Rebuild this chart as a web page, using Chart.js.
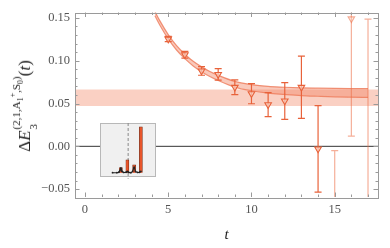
<!DOCTYPE html>
<html><head><meta charset="utf-8">
<script src="https://cdn.jsdelivr.net/npm/chart.js@4/dist/chart.umd.min.js"></script>
<style>
html,body{margin:0;padding:0;background:#fff;}
#wrap{position:relative;width:390px;height:248px;overflow:hidden;}
#main{position:absolute;left:0;top:0;}
#inset{position:absolute;left:96px;top:119px;}
#ytitle{position:absolute;left:26px;top:106px;transform:translate(-50%,-50%) rotate(-90deg);font-family:"Liberation Serif",serif;font-size:17px;color:#222;white-space:nowrap;line-height:1;}
#ytitle .st{display:inline-flex;flex-direction:column;vertical-align:middle;font-size:11px;line-height:1;margin-left:1px;}
#ytitle .st .up{position:relative;top:-4px;}
#ytitle .st .dn{position:relative;top:2px;}
#ytitle i{font-style:italic;}
#ytitle sub,#ytitle sup{font-size:8px;line-height:0;}
</style></head>
<body>
<div id="wrap">
<canvas id="main" width="390" height="248"></canvas>
<canvas id="inset" width="64" height="62"></canvas>
<div id="ytitle">Δ<i>E</i><span class="st"><span class="up">(2,1,A<sub>1</sub><sup>+</sup>,S<sub>0</sub>)</span><span class="dn">3</span></span>(<i>t</i>)</div>
</div>
<script>
// ---- data ----
const tValues  = [5, 6, 7, 8, 9, 10, 11, 12, 13, 14, 15, 16, 17];
const deltaE   = [0.1253, 0.107, 0.088, 0.084, 0.069, 0.0615, 0.0486, 0.053, 0.069, -0.003, -0.08, 0.149, -0.07];
const deltaErr = [0.003, 0.004, 0.005, 0.0067, 0.0086, 0.0118, 0.014, 0.0215, 0.0364, 0.0506, 0.075, 0.137, 0.2186];

const fitT     = [4.2, 4.5, 5, 5.5, 6, 6.5, 7, 7.5, 8, 9, 10, 11, 12, 13, 14, 15, 16, 17];
const fitUpper = [0.1575, 0.1465, 0.1305, 0.1175, 0.1076, 0.0993, 0.0928, 0.0874, 0.083, 0.0758, 0.0721, 0.0699, 0.069, 0.0683, 0.0679, 0.0676, 0.0674, 0.0673];
const fitLower = [0.1525, 0.1415, 0.1255, 0.1125, 0.1024, 0.0939, 0.0872, 0.0816, 0.077, 0.0692, 0.0649, 0.0621, 0.0606, 0.0593, 0.0585, 0.0578, 0.0574, 0.0571];

const bandT     = [-0.6, 17.6];
const bandUpper = [0.0665, 0.0665];
const bandLower = [0.047, 0.047];

const xTickValues = [0, 5, 10, 15];
const yTickValues = [-0.05, 0, 0.05, 0.10, 0.15];
const xRange = [-0.6, 17.6];
const yRange = [-0.0592, 0.1563];

// inset
const insetBarX = [14.3, 27.7, 41.7, 55.7];
const insetBarH = [0.11, 0.28, 0.17, 1.0];
const insetLineX = [-3, 6, 10, 12, 14.3, 16.5, 20, 25, 27.7, 30, 35, 38.5, 41.7, 44.5, 49, 53, 55.7];
const insetLineY = [0, 0, 0.01, 0.04, 0.1, 0.03, 0.005, 0.01, 0.03, 0.01, 0, 0.03, 0.12, 0.03, 0.005, 0.01, 0.03];
const insetDivider = 29.3;

// ---- main chart ----
const ORANGE = 'rgb(232,98,58)';
const ORANGE_LIGHT = 'rgba(236,110,70,0.55)';
const colorFor = t => t >= 15 ? ORANGE_LIGHT : ORANGE;

const errorBars = {
  id: 'errorBars',
  beforeDatasetDraw(chart, args) {
    if (chart.data.datasets[args.index].label !== 'points') return;
    const {ctx, chartArea: a, scales: {x, y}} = chart;
    ctx.save();
    ctx.beginPath(); ctx.rect(a.left, a.top, a.right - a.left, a.bottom - a.top); ctx.clip();
    ctx.lineWidth = 1.2;
    tValues.forEach((t, i) => {
      const px = x.getPixelForValue(t);
      const y1 = y.getPixelForValue(deltaE[i] + deltaErr[i]);
      const y2 = y.getPixelForValue(deltaE[i] - deltaErr[i]);
      ctx.strokeStyle = colorFor(t);
      ctx.beginPath();
      ctx.moveTo(px, y1); ctx.lineTo(px, y2);
      ctx.moveTo(px - 3.5, y1); ctx.lineTo(px + 3.5, y1);
      ctx.moveTo(px - 3.5, y2); ctx.lineTo(px + 3.5, y2);
      ctx.stroke();
    });
    ctx.restore();
  }
};

const frame = {
  id: 'frame',
  afterDraw(chart) {
    const {ctx, chartArea: a, scales: {x, y}} = chart;
    ctx.save();
    ctx.strokeStyle = '#9a9a9a';
    ctx.lineWidth = 1;
    ctx.strokeRect(Math.round(a.left) + 0.5, Math.round(a.top) + 0.5, Math.round(a.right - a.left), Math.round(a.bottom - a.top));
    ctx.beginPath();
    for (let v = -1; v <= 18; v++) {
      if (v < xRange[0] || v > xRange[1]) continue;
      const px = Math.round(x.getPixelForValue(v)) + 0.5;
      const len = v % 5 === 0 ? 4.5 : 2.5;
      ctx.moveTo(px, a.bottom); ctx.lineTo(px, a.bottom - len);
      ctx.moveTo(px, a.top); ctx.lineTo(px, a.top + len);
    }
    for (let k = -6; k <= 15; k++) {
      const v = k / 100;
      if (v < yRange[0] || v > yRange[1]) continue;
      const py = Math.round(y.getPixelForValue(v)) + 0.5;
      const len = k % 5 === 0 ? 4.5 : 2.5;
      ctx.moveTo(a.left, py); ctx.lineTo(a.left + len, py);
      ctx.moveTo(a.right, py); ctx.lineTo(a.right - len, py);
    }
    ctx.stroke();
    ctx.restore();
  }
};

const fmt = v => {
  const s = Math.abs(v) < 1e-9 ? '0.00' : v.toFixed(2);
  return s.replace('-', '\u2212');
};

new Chart(document.getElementById('main'), {
  type: 'line',
  data: {
    datasets: [
      { label: 'points', order: 0, showLine: false,
        data: tValues.map((t, i) => ({x: t, y: deltaE[i]})),
        pointStyle: 'triangle', rotation: 180, pointRadius: 3.8, pointBorderWidth: 1.1,
        pointBorderColor: tValues.map(colorFor),
        pointBackgroundColor: tValues.map(t => t >= 15 ? 'rgba(250,210,195,0.4)' : 'rgba(250,205,190,0.75)') },
      { label: 'fitUpper', order: 1, data: fitT.map((t, i) => ({x: t, y: fitUpper[i]})),
        borderColor: 'rgba(236,112,78,0.75)', borderWidth: 1.2, pointRadius: 0,
        cubicInterpolationMode: 'monotone', fill: '+1', backgroundColor: 'rgba(242,135,105,0.45)' },
      { label: 'fitLower', order: 1, data: fitT.map((t, i) => ({x: t, y: fitLower[i]})),
        borderColor: 'rgba(236,112,78,0.75)', borderWidth: 1.2, pointRadius: 0,
        cubicInterpolationMode: 'monotone', fill: false },
      { label: 'zero', order: 2, data: [{x: xRange[0], y: 0}, {x: xRange[1], y: 0}],
        borderColor: '#333', borderWidth: 1, pointRadius: 0, fill: false },
      { label: 'bandUpper', order: 3, data: bandT.map((t, i) => ({x: t, y: bandUpper[i]})),
        borderWidth: 0, pointRadius: 0, fill: '+1', backgroundColor: 'rgba(244,150,122,0.45)' },
      { label: 'bandLower', order: 3, data: bandT.map((t, i) => ({x: t, y: bandLower[i]})),
        borderWidth: 0, pointRadius: 0, fill: false }
    ]
  },
  options: {
    responsive: false, animation: false,
    layout: { padding: { left: 0, right: 12, top: 11, bottom: 0 } },
    plugins: { legend: { display: false }, tooltip: { enabled: false } },
    scales: {
      x: { type: 'linear', min: xRange[0], max: xRange[1],
        grid: { display: false, drawTicks: false }, border: { display: false },
        afterBuildTicks: s => { s.ticks = xTickValues.map(v => ({value: v})); },
        afterFit: s => { s.height = 51; },
        ticks: { padding: 5, color: '#555', font: { family: 'Liberation Serif', size: 12.5 }, maxRotation: 0,
          callback: v => String(v) },
        title: { display: true, text: 't', color: '#222', padding: { top: 0, bottom: 4 },
          font: { family: 'Liberation Serif', size: 15, style: 'italic' } } },
      y: { type: 'linear', min: yRange[0], max: yRange[1],
        grid: { display: false, drawTicks: false }, border: { display: false },
        afterBuildTicks: s => { s.ticks = yTickValues.map(v => ({value: v})); },
        afterFit: s => { s.width = 75; },
        ticks: { padding: 5, color: '#555', font: { family: 'Liberation Serif', size: 12.5 }, callback: v => fmt(v) } }
    }
  },
  plugins: [errorBars, frame]
});

// ---- inset chart ----
const insetBox = {
  id: 'insetBox',
  beforeDraw(chart) {
    const {ctx, chartArea: a} = chart;
    ctx.save();
    ctx.fillStyle = '#f0f0f0';
    ctx.fillRect(a.left, a.top, a.right - a.left, a.bottom - a.top);
    ctx.strokeStyle = '#b8b8b8'; ctx.lineWidth = 1;
    ctx.strokeRect(a.left + 0.5, a.top + 0.5, a.right - a.left - 1, a.bottom - a.top - 1);
    ctx.restore();
  }
};

new Chart(document.getElementById('inset'), {
  type: 'bar',
  data: {
    datasets: [
      { type: 'line', order: 0, data: insetLineX.map((x, i) => ({x, y: insetLineY[i]})),
        borderColor: '#222', borderWidth: 1.1, pointRadius: 0.9, pointBackgroundColor: '#222', pointBorderWidth: 0,
        tension: 0.3, clip: false },
      { type: 'bar', order: 1, data: insetBarX.map((x, i) => ({x, y: insetBarH[i]})),
        backgroundColor: '#e8552a', borderColor: '#6a2410', borderWidth: 0.6, barThickness: 3 },
      { type: 'line', order: 2, data: [{x: insetDivider, y: 1.086}, {x: insetDivider, y: -0.13}],
        borderColor: '#8a8a8a', borderWidth: 1, borderDash: [3, 2], pointRadius: 0, clip: false }
    ]
  },
  options: {
    responsive: false, animation: false,
    layout: { padding: { left: 4, right: 2, top: 3, bottom: 4 } },
    plugins: { legend: { display: false }, tooltip: { enabled: false } },
    scales: {
      x: { type: 'linear', min: 0, max: 58, display: false },
      y: { min: -0.094, max: 1.086, display: false }
    }
  },
  plugins: [insetBox]
});
</script>
</body></html>
